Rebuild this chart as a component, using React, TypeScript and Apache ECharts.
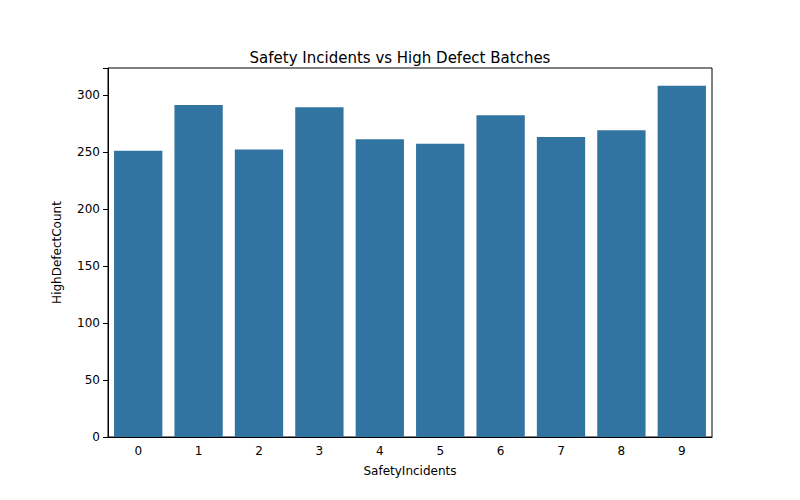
import React, { useEffect, useRef } from "react";
import * as echarts from "echarts";

const categories = ["0", "1", "2", "3", "4", "5", "6", "7", "8", "9"];
const values = [251, 291, 252, 289, 261, 257, 282, 263, 269, 308];

export default function App() {
  const ref = useRef<HTMLDivElement>(null);
  useEffect(() => {
    const chart = echarts.init(ref.current!, null, { renderer: "svg" });
    chart.setOption({
      animation: false,
      textStyle: { fontFamily: "DejaVu Sans" },
      title: {
        text: "Safety Incidents vs High Defect Batches",
        left: "center",
        top: 37,
        textStyle: { fontSize: 15, fontWeight: "normal", color: "#000" },
      },
      grid: {
        left: 100, right: 80, top: 60, bottom: 55, show: true,
        borderColor: "#000", borderWidth: 1, backgroundColor: "transparent",
      },
      xAxis: {
        type: "category",
        data: categories,
        name: "SafetyIncidents",
        nameLocation: "middle",
        nameGap: 28,
        nameTextStyle: { fontSize: 12, color: "#000" },
        axisLine: { lineStyle: { color: "#000" } },
        axisTick: { alignWithLabel: true, lineStyle: { color: "#000" } },
        axisLabel: { color: "#000", fontSize: 12 },
      },
      yAxis: {
        type: "value",
        min: 0,
        max: 323.5,
        interval: 50,
        name: "HighDefectCount",
        nameLocation: "middle",
        nameGap: 45,
        nameTextStyle: { fontSize: 12, color: "#000" },
        splitLine: { show: false },
        axisLine: { show: true, lineStyle: { color: "#000" } },
        axisTick: { show: true, lineStyle: { color: "#000" } },
        axisLabel: {
          color: "#000", fontSize: 12,
          formatter: (v: number) => (v % 50 === 0 ? String(v) : ""),
        },
      },
      series: [
        {
          type: "bar",
          data: values,
          barCategoryGap: "20%",
          itemStyle: { color: "#3274a1" },
        },
      ],
    });
    return () => chart.dispose();
  }, []);
  return <div ref={ref} style={{ width: 784, height: 484 }} />;
}
